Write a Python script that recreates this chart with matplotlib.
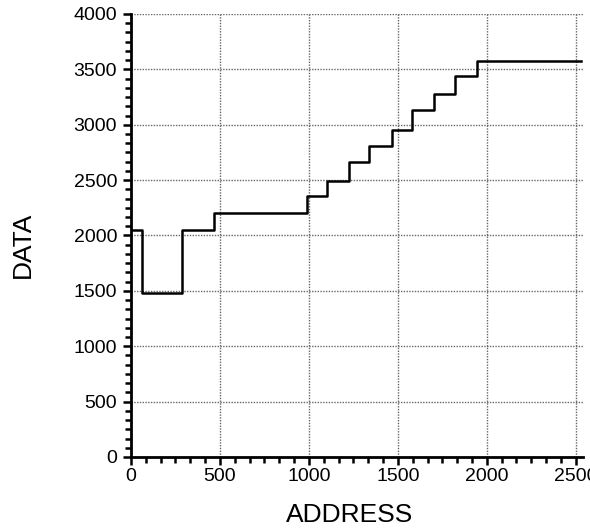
import matplotlib
matplotlib.use("Agg")
import matplotlib.pyplot as plt
from matplotlib.ticker import MultipleLocator

plt.rcParams['font.family'] = ['Liberation Sans', 'DejaVu Sans']

# Data: step edges (ADDRESS) and levels (DATA)
address_edges = [0, 60, 285, 468, 990, 1100, 1226, 1340, 1468, 1580, 1704, 1822, 1947, 2532]
data_levels = [2050, 1485, 2050, 2200, 2355, 2495, 2660, 2805, 2955, 3135, 3277, 3438, 3580]

x_ticks = [0, 500, 1000, 1500, 2000, 2500]
y_ticks = [0, 500, 1000, 1500, 2000, 2500, 3000, 3500, 4000]

fig = plt.figure(figsize=(5.9, 5.28), dpi=100)
ax = fig.add_axes([0.222, 0.1345, 0.766, 0.839])

ax.step(address_edges, data_levels + [data_levels[-1]], where='post',
        color='black', linewidth=1.8, zorder=3)

ax.set_xlim(0, 2540)
ax.set_ylim(0, 4000)
ax.set_xticks(x_ticks)
ax.set_yticks(y_ticks)
ax.xaxis.set_minor_locator(MultipleLocator(500 / 6))
ax.yaxis.set_minor_locator(MultipleLocator(500 / 6))

ax.grid(True, which='major', color='#666666', linestyle=(0, (1, 1)), linewidth=1.0)

for s in ['top', 'right']:
    ax.spines[s].set_visible(False)
for s in ['left', 'bottom']:
    ax.spines[s].set_linewidth(2.0)

ax.tick_params(axis='both', which='major', direction='out', length=6, width=1.8,
               labelsize=14, pad=4)
ax.tick_params(axis='x', which='major', pad=2)
ax.tick_params(axis='both', which='minor', direction='out', length=4, width=1.8)

ax.set_xlabel('ADDRESS', fontsize=19)
ax.set_ylabel('DATA', fontsize=19)
ax.xaxis.set_label_coords((350 - 131) / 452, -(515 - 457) / 443)
ax.yaxis.set_label_coords(-(131 - 23) / 452, (457 - 245) / 443)
ax.xaxis.label.set_va('center')
ax.yaxis.label.set_va('center')

fig.savefig('out.png', dpi=100)
